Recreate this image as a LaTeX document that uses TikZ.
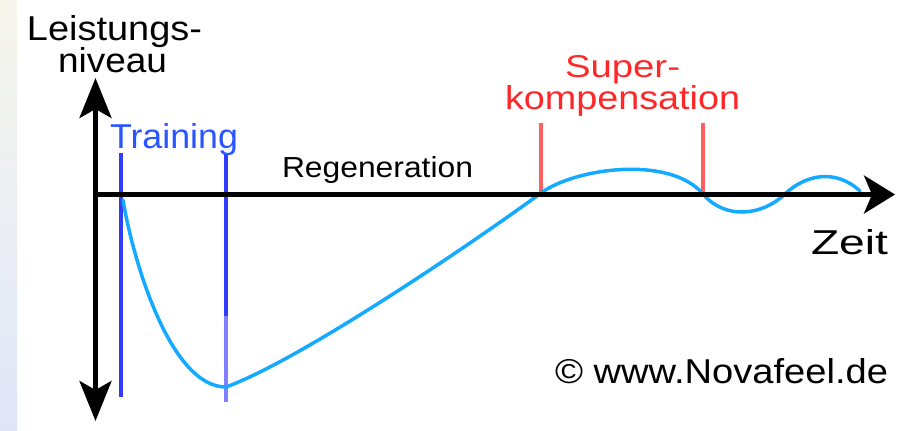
\documentclass[tikz,border=0pt]{standalone}
\usepackage{fontspec}
\setmainfont{Liberation Sans}
\usetikzlibrary{arrows.meta}
\definecolor{curvecol}{RGB}{20,170,255}
\definecolor{trainblue}{RGB}{50,60,255}
\definecolor{trainlight}{RGB}{128,128,255}
\definecolor{trainlabel}{RGB}{40,85,255}
\definecolor{superred}{RGB}{255,40,40}
\definecolor{superline}{RGB}{255,95,95}
\definecolor{striptop}{RGB}{246,246,236}
\definecolor{stripbot}{RGB}{224,230,248}
\newcommand{\fitlabel}[3]{\resizebox{#1pt}{#2pt}{#3}}
\tikzset{
  tipv/.tip={Stealth[length=40pt,width=32pt,inset=9pt]},
  tiph/.tip={Stealth[length=31pt,width=38pt,inset=8pt]}}
\begin{document}
\begin{tikzpicture}[x=1pt,y=-1pt,
  lbl/.style={inner sep=0pt,outer sep=0pt,anchor=base west},
  axisline/.style={line width=4.5pt,black},
  trainline/.style={line width=4.5pt,trainblue},
  superbar/.style={line width=4pt,superline},
  perf/.style={line width=3.5pt,curvecol}]
\useasboundingbox (0,0) rectangle (897,431);
\fill[white] (0,0) rectangle (897,431);
\shade[top color=striptop,bottom color=stripbot] (0,0) rectangle (17,431);

% coordinates
\coordinate (ytop) at (95.5,78);
\coordinate (ybot) at (95.5,421);
\coordinate (xstart) at (93,194.5);
\coordinate (xend) at (895,194.5);
\coordinate (c0) at (123,200);
\coordinate (cmin) at (226,387);
\coordinate (cx1) at (541,193);
\coordinate (cx2) at (703,194);
\coordinate (cx3) at (785,194);
\coordinate (cend) at (860,191);

% blue training markers
\draw[trainline] (121,153) -- (121,397);
\draw[trainline] (226,153) -- (226,316);
\draw[line width=4.5pt,trainlight] (226,316) -- (226,402);

% red supercompensation markers
\draw[superbar] (541,123) -- (541,194);
\draw[superbar] (703,123) -- (703,194);

% performance curve
\draw[perf,line join=round,line cap=round]
  (c0) .. controls (133,260) and (170,387) .. (cmin)
       .. controls (300,360) and (470,245) .. (cx1)
       .. controls (575,168) and (670,155) .. (cx2)
       .. controls (725,220) and (762,216) .. (cx3)
       .. controls (805,175) and (835,168) .. (cend);

% axes
\draw[axisline,tipv-tipv] (ybot) -- (ytop);
\draw[axisline,-tiph] (xstart) -- (xend);

% labels
\node[lbl] (ylab1) at (27,40) {\fitlabel{175}{25}{Leistungs-}};
\node[lbl] (ylab2) at (58,72) {\fitlabel{109}{25}{niveau}};
\node[lbl,text=trainlabel] (train) at (110,148) {\fitlabel{128}{25}{Training}};
\node[lbl] (regen) at (282,177) {\fitlabel{191}{21}{Regeneration}};
\node[lbl,text=superred] (sup1) at (565,77) {\fitlabel{115}{22}{Super-}};
\node[lbl,text=superred] (sup2) at (505,109) {\fitlabel{235}{24}{kompensation}};
\node[lbl] (zeit) at (811,254) {\fitlabel{77}{25}{Zeit}};
\node[lbl] (copy) at (555,383) {\fitlabel{333}{25}{© www.Novafeel.de}};
\end{tikzpicture}
\end{document}
